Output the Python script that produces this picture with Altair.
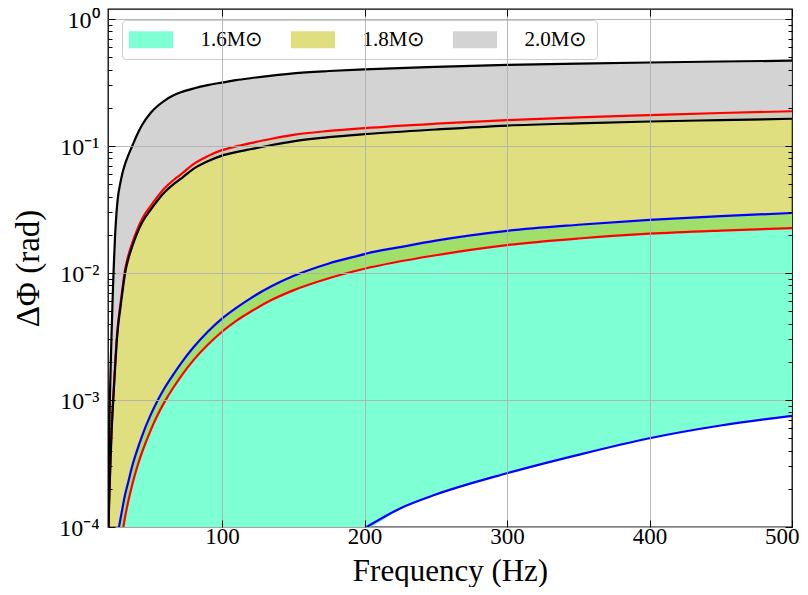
import altair as alt
import pandas as pd

FONT = "Liberation Serif"
YMIN, YMAX = 1e-4, 1.2
XMIN, XMAX = 20, 500

BANDS = ["1.6M⊙", "1.8M⊙", "2.0M⊙"]
LEGEND_COLORS = ["#7fffd4", "#dfdf80", "#d3d3d3"]
AQUA, YELLOW, GRAY = "#7fffd4", "#bfbf00", "#c8c8c8"

# 2.0 Msun band (black curves)
F_GRAY = [20.3, 20.7, 21.0, 21.4, 22.0, 22.6, 23.2, 23.7, 24.3, 25.0, 26.0, 27.0, 28.5, 30.0,
          32, 34, 37, 40, 44, 50, 55, 60, 66, 72, 80, 90, 100, 110, 120, 135, 150, 175,
          200, 250, 300, 350, 400, 450, 500]
BLACK_UPPER = [1.0e-4, 3.98e-4, 6.76e-4, 1.12e-3, 2.09e-3, 3.63e-3, 6.03e-3, 8.91e-3, 0.0132,
               0.0200, 0.0302, 0.0398, 0.0501, 0.0603, 0.0724, 0.0832, 0.100, 0.120, 0.147,
               0.183, 0.2075, 0.229, 0.251, 0.267, 0.284, 0.302, 0.316, 0.330, 0.342, 0.359,
               0.374, 0.390, 0.402, 0.420, 0.435, 0.446, 0.455, 0.463, 0.470]
BLACK_LOWER = [1.0e-4, 1.41e-4, 1.82e-4, 2.51e-4, 3.89e-4, 5.89e-4, 7.94e-4, 1.0e-3, 1.32e-3,
               1.8e-3, 2.75e-3, 3.72e-3, 5.13e-3, 6.92e-3, 0.0100, 0.0126, 0.0162, 0.0200,
               0.0251, 0.0316, 0.0376, 0.0437, 0.0501, 0.0562, 0.0661, 0.0759, 0.0841, 0.0895,
               0.0944, 0.1019, 0.109, 0.1175, 0.124, 0.135, 0.145, 0.151, 0.156, 0.160, 0.164]

# 1.8 Msun band (red curves)
F_YELLOW = [20.3, 20.7, 21.0, 21.4, 22.0, 22.6, 23.2, 23.7, 24.3, 25.0, 26.0, 27.0, 28.5, 30.0, 30.8,
            32, 34, 37, 40, 44, 50, 55, 60, 66, 72, 80, 90, 100, 110, 120, 135, 150, 175,
            200, 250, 300, 350, 400, 450, 500]
RED_UPPER = [1.0e-4, 1.5e-4, 1.95e-4, 2.7e-4, 4.2e-4, 6.3e-4, 8.5e-4, 1.07e-3, 1.41e-3, 1.92e-3,
             2.93e-3, 3.96e-3, 5.45e-3, 7.35e-3, 8.6e-3, 0.01065, 0.0134, 0.0172, 0.0213, 0.0268,
             0.0338, 0.0403, 0.047, 0.054, 0.0609, 0.0721, 0.0833, 0.0928, 0.0994, 0.1053,
             0.1142, 0.1225, 0.1315, 0.1385, 0.150, 0.160, 0.168, 0.175, 0.182, 0.188]
RED_LOWER = [None] * 14 + [1.0e-4, 1.2e-4, 1.55e-4, 2.15e-4, 2.85e-4, 3.9e-4, 5.8e-4, 7.7e-4,
                           9.8e-4, 1.26e-3, 1.58e-3, 2.06e-3, 2.72e-3, 3.45e-3, 4.2e-3, 4.95e-3,
                           6.15e-3, 7.3e-3, 9.1e-3, 0.0108, 0.0138, 0.0166, 0.0187, 0.0204,
                           0.0216, 0.0226]

# 1.6 Msun band (blue curves)
F_AQUA = [27.7, 30, 32, 34, 37, 40, 44, 50, 55, 60, 66, 72, 80, 90, 100, 110, 120, 135, 150, 175,
          200, 201.5, 225, 250, 300, 350, 400, 450, 500]
BLUE_UPPER = [1.0e-4, 1.38e-4, 1.8e-4, 2.21e-4, 3.02e-4, 3.89e-4, 5.25e-4, 7.67e-4, 1.0e-3,
              1.26e-3, 1.6e-3, 2.0e-3, 2.6e-3, 3.45e-3, 4.37e-3, 5.31e-3, 6.32e-3, 7.89e-3,
              9.46e-3, 0.0119, 0.0141, 0.01425, 0.016, 0.018, 0.0215, 0.024, 0.0262, 0.0281,
              0.0297]
BLUE_LOWER = [None] * 21 + [1.0e-4, 1.4e-4, 1.8e-4, 2.65e-4, 3.7e-4, 5.0e-4, 6.3e-4, 7.5e-4]

X_TICKS = [100, 200, 300, 400, 500]
X_GRID = [100, 200, 300, 400]
Y_MAJOR = [1e-4, 1e-3, 1e-2, 1e-1, 1.0]
Y_MINOR = [k * 10.0 ** e for e in range(-4, 0) for k in range(2, 10)]


def band_df(freqs, lo, hi, name):
    return pd.DataFrame({
        "f": freqs,
        "lo": [YMIN if v is None else v for v in lo],
        "hi": hi,
        "band": name,
    })


def line_df(pairs):
    rows = []
    for cid, freqs, vals in pairs:
        for f, v in zip(freqs, vals):
            if v is not None:
                rows.append({"f": f, "v": v, "curve": cid})
    return pd.DataFrame(rows)


aqua = band_df(F_AQUA, BLUE_LOWER, BLUE_UPPER, BANDS[0])
yellow = band_df(F_YELLOW, RED_LOWER, RED_UPPER, BANDS[1])
gray = band_df(F_GRAY, BLACK_LOWER, BLACK_UPPER, BANDS[2])

blue_lines = line_df([("bu", F_AQUA, BLUE_UPPER), ("bl", F_AQUA, BLUE_LOWER)])
red_lines = line_df([("ru", F_YELLOW, RED_UPPER), ("rl", F_YELLOW, RED_LOWER)])
black_lines = line_df([("ku", F_GRAY, BLACK_UPPER), ("kl", F_GRAY, BLACK_LOWER)])

xscale = alt.Scale(domain=[XMIN, XMAX], nice=False, zero=False)
yscale = alt.Scale(type="log", domain=[YMIN, YMAX], nice=False)

tick_common = dict(domain=False, grid=False, ticks=True, tickColor="black", tickWidth=1,
                   zindex=1)

ax_x_main = alt.Axis(orient="bottom", values=X_TICKS, tickSize=7, offset=-7, labelPadding=-2,
                     labelFont=FONT, labelFontSize=23, labelColor="black", labelFlush=True,
                     labelFlushOffset=7, labelOverlap=False, titleFont=FONT, titleFontSize=31,
                     titleFontWeight="normal", titleColor="black", titlePadding=8,
                     **tick_common)
ax_y_main = alt.Axis(orient="left", values=Y_MAJOR, tickSize=7, offset=-7, labelPadding=9,
                     labelFont=FONT, labelFontSize=24, labelColor="black", labelOffset=1.5,
                     labelExpr="datum.value >= 0.5 ? '10⁰' : datum.value >= 0.05 ? '10⁻¹' : "
                               "datum.value >= 0.005 ? '10⁻²' : datum.value >= 0.0005 ? '10⁻³' : '10⁻⁴'",
                     titleFont=FONT, titleFontSize=33, titleFontWeight="normal",
                     titleColor="black", titlePadding=13, **tick_common)
ax_x_grid = alt.Axis(orient="bottom", values=X_GRID, grid=True, gridColor="#b0b0b0",
                     gridWidth=0.9, ticks=False, labels=False, domain=False, zindex=1)
ax_y_grid = alt.Axis(orient="left", values=Y_MAJOR, grid=True, gridColor="#b0b0b0",
                     gridWidth=0.9, ticks=False, labels=False, domain=False, zindex=1)
ax_x_top = alt.Axis(orient="top", values=X_TICKS, tickSize=7, offset=-7, labels=False,
                    **tick_common)
ax_y_left_minor = alt.Axis(orient="left", values=Y_MINOR, tickSize=4, offset=-4, labels=False,
                           **tick_common)
ax_y_right = alt.Axis(orient="right", values=Y_MAJOR, tickSize=7, offset=-7, labels=False,
                      **tick_common)
ax_y_right_minor = alt.Axis(orient="right", values=Y_MINOR, tickSize=4, offset=-4, labels=False,
                            **tick_common)

legend = alt.Legend(orient="none", legendX=14, legendY=11, direction="horizontal", columns=3,
                    title=None, symbolType="M-2.6,-1H2.6V1H-2.6Z", symbolSize=289,
                    symbolOffset=9.5, symbolStrokeWidth=0, symbolOpacity=1, labelOffset=39,
                    labelFont=FONT, labelFontSize=21, labelColor="black", columnPadding=26,
                    padding=9, fillColor="rgba(255,255,255,0.85)", strokeColor="#cccccc",
                    cornerRadius=4)

# the 1.6 band is opaque aquamarine, so it carries the legend for all three bands
aqua_layer = alt.Chart(aqua).mark_area(interpolate="monotone", clip=True, opacity=1).encode(
    x=alt.X("f:Q", scale=xscale, axis=ax_x_main, title="Frequency (Hz)"),
    y=alt.Y("hi:Q", scale=yscale, axis=ax_y_main, title="ΔΦ (rad)"),
    y2="lo:Q",
    color=alt.Color("band:N", scale=alt.Scale(domain=BANDS, range=LEGEND_COLORS), legend=legend),
)

yellow_layer = alt.Chart(yellow).mark_area(interpolate="monotone", clip=True, color=YELLOW,
                                           opacity=0.5).encode(
    x=alt.X("f:Q", scale=xscale, axis=ax_x_grid, title=None),
    y=alt.Y("hi:Q", scale=yscale, axis=ax_y_grid, title=None),
    y2="lo:Q",
)

gray_layer = alt.Chart(gray).mark_area(interpolate="monotone", clip=True, color=GRAY,
                                       opacity=0.8).encode(
    x=alt.X("f:Q", scale=xscale, axis=ax_x_top, title=None),
    y=alt.Y("hi:Q", scale=yscale, axis=ax_y_left_minor, title=None),
    y2="lo:Q",
)


def line_layer(df, col, yaxis):
    return alt.Chart(df).mark_line(interpolate="monotone", clip=True, strokeWidth=2.2,
                                   color=col).encode(
        x=alt.X("f:Q", scale=xscale, axis=None),
        y=alt.Y("v:Q", scale=yscale, axis=yaxis, title=None),
        detail="curve:N",
    )


chart = alt.layer(
    aqua_layer,
    yellow_layer,
    gray_layer,
    line_layer(blue_lines, "#0000ff", ax_y_right),
    line_layer(red_lines, "#ff0000", ax_y_right_minor),
    line_layer(black_lines, "#000000", None),
).resolve_axis(
    x="independent", y="independent"
).properties(
    width=684, height=518,
    autosize=alt.AutoSizeParams(type="none"),
    padding={"left": 100, "top": 1, "right": 8, "bottom": 60},
).configure_view(
    stroke="black", strokeWidth=1.3
)

chart.save("out.html", embed_options={"renderer": "svg", "actions": False})
